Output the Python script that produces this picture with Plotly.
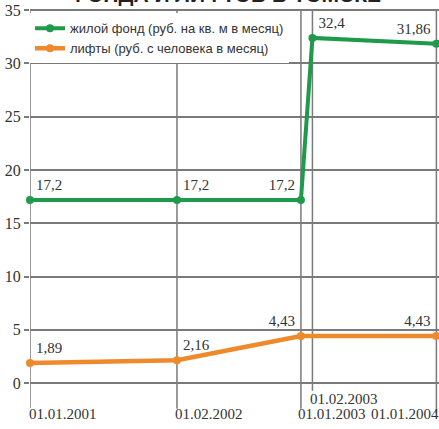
import plotly.graph_objects as go

# ---- data ----
dates = ["2001-01-01", "2002-02-01", "2003-01-01", "2003-02-01", "2004-01-01"]
date_labels = ["01.01.2001", "01.02.2002", "01.01.2003", "01.02.2003", "01.01.2004"]

housing_dates = ["2001-01-01", "2002-02-01", "2003-01-01", "2003-02-01", "2004-01-01"]
housing_values = [17.2, 17.2, 17.2, 32.4, 31.86]
housing_name = "жилой фонд (руб. на кв. м в месяц)"

lift_dates = ["2001-01-01", "2002-02-01", "2003-01-01", "2004-01-01"]
lift_values = [1.89, 2.16, 4.43, 4.43]
lift_name = "лифты (руб. с человека в месяц)"

y_ticks = [0, 5, 10, 15, 20, 25, 30, 35]
title_text = "ФОНДА И ЛИФТОВ В ТОМСКЕ"

GREEN = "#1f9a4b"
ORANGE = "#ee8a2c"
GRID = "#7a7a7a"
TEXT = "#333333"
FONT = "Liberation Sans Narrow"


def fmt(v):
    return ("%g" % v).replace(".", ",")


fig = go.Figure()
fig.add_trace(go.Scatter(
    x=housing_dates, y=housing_values, name=housing_name,
    mode="lines+markers+text",
    line=dict(color=GREEN, width=4),
    marker=dict(color=GREEN, size=8),
    text=[fmt(v) for v in housing_values],
    textposition=["top right", "top right", "top left", "top right", "top left"],
    textfont=dict(family=FONT, size=15, color=TEXT),
    cliponaxis=False,
))
fig.add_trace(go.Scatter(
    x=lift_dates, y=lift_values, name=lift_name,
    mode="lines+markers+text",
    line=dict(color=ORANGE, width=4.5),
    marker=dict(color=ORANGE, size=8),
    text=[fmt(v) for v in lift_values],
    textposition=["top right", "top right", "top left", "top left"],
    textfont=dict(family=FONT, size=15, color=TEXT),
    cliponaxis=False,
))

# vertical grid lines at each date, extending below zero toward labels
bottoms = [-2.3, -2.4, -2.4, -0.7, -2.8]
shapes = []
for d, b in zip(dates, bottoms):
    shapes.append(dict(type="line", xref="x", yref="y", x0=d, x1=d, y0=b, y1=35,
                       line=dict(color=GRID, width=1.5), layer="below"))

annotations = []
label_y = [-2.85, -2.85, -2.85, -1.45, -2.85]
label_anchor = ["left", "left", "left", "left", "right"]
label_shift = [-3, -4, -5, -4, 5]
for d, lab, ly, anc, sh in zip(dates, date_labels, label_y, label_anchor, label_shift):
    annotations.append(dict(x=d, y=ly, xref="x", yref="y", text=lab, showarrow=False,
                            xanchor=anc, yanchor="middle", xshift=sh,
                            font=dict(family=FONT, size=15, color=TEXT)))

# title: only its lower edge shows at the top of the picture
annotations.append(dict(x=0.477, y=35, xref="paper", yref="y", text="<b>" + title_text + "</b>",
                        showarrow=False, xanchor="center", yanchor="bottom", yshift=3, borderpad=0,
                        font=dict(family="Liberation Sans", size=21, color="#222222")))

fig.update_layout(
    width=439, height=429,
    margin=dict(l=30, r=0, t=7, b=0),
    plot_bgcolor="white", paper_bgcolor="white",
    showlegend=True,
    legend=dict(x=0.0, y=0.985, xanchor="left", yanchor="top",
                bgcolor="white", borderwidth=0,
                font=dict(family="Liberation Sans", size=13, color=TEXT),
                itemwidth=30, tracegroupgap=0),
    xaxis=dict(type="date", range=["2001-01-01", "2004-01-08"],
               showgrid=False, zeroline=False, showticklabels=False, showline=False),
    yaxis=dict(range=[-4.3, 35.3], tickvals=y_ticks, ticktext=[str(t) for t in y_ticks],
               showgrid=True, gridcolor=GRID, gridwidth=1.5, zeroline=False,
               ticks="outside", ticklen=5, tickcolor=GRID, tickwidth=1.5,
               tickfont=dict(family=FONT, size=16, color=TEXT), showline=False),
    shapes=shapes,
    annotations=annotations,
)

fig.write_html("out.html", config={"displayModeBar": False},
               post_script="document.body.style.margin='0px';")
